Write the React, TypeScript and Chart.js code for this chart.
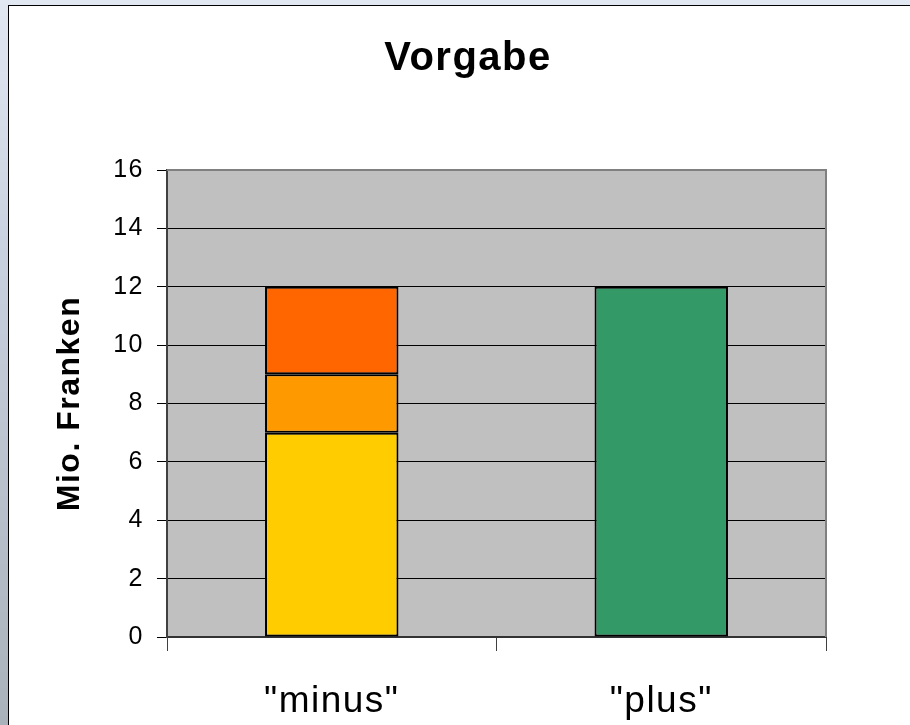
import React, { useEffect, useRef } from "react";
import { Chart, registerables } from "chart.js";

Chart.register(...registerables);

const chartTitle = "Vorgabe";
const categories = ['"minus"', '"plus"'];
const yAxisTitle = "Mio. Franken";
const yMin = 0;
const yMax = 16;
const yStep = 2;
const minusBase = [7, null];
const minusMiddle = [2, null];
const minusTop = [3, null];
const plusTotal = [null, 12];

const FONT = "'Liberation Sans', Arial, sans-serif";

export default function App() {
  const canvasRef = useRef<HTMLCanvasElement | null>(null);

  useEffect(() => {
    const canvas = canvasRef.current;
    if (!canvas) return;

    const framePlugin = {
      id: "frame",
      beforeDraw(chart: any) {
        const { ctx, chartArea } = chart;
        ctx.save();
        ctx.fillStyle = "#C0C0C0";
        ctx.fillRect(chartArea.left, chartArea.top, chartArea.right - chartArea.left, chartArea.bottom - chartArea.top);
        ctx.restore();
        ctx.letterSpacing = "1.5px";
      },
      beforeDatasetsDraw(chart: any) {
        const { ctx, chartArea } = chart;
        ctx.save();
        ctx.strokeStyle = "#808080";
        ctx.lineWidth = 2;
        ctx.beginPath();
        ctx.moveTo(chartArea.left, chartArea.top);
        ctx.lineTo(chartArea.right, chartArea.top);
        ctx.lineTo(chartArea.right, chartArea.bottom);
        ctx.stroke();
        ctx.restore();
      },
      afterDraw(chart: any) {
        const { ctx } = chart;
        ctx.save();
        ctx.letterSpacing = "1.5px";
        ctx.font = `bold 40px ${FONT}`;
        ctx.fillStyle = "#000";
        ctx.textAlign = "center";
        ctx.textBaseline = "alphabetic";
        ctx.fillText(chartTitle, 468, 70);
        ctx.restore();
        ctx.letterSpacing = "0px";
      },
    };

    const chart = new Chart(canvas, {
      type: "bar",
      data: {
        labels: categories,
        datasets: [
          { data: minusBase, backgroundColor: "#FFCC00", borderColor: "#000", borderWidth: 2, borderSkipped: false },
          { data: minusMiddle, backgroundColor: "#FF9900", borderColor: "#000", borderWidth: 2, borderSkipped: false },
          { data: minusTop, backgroundColor: "#FF6600", borderColor: "#000", borderWidth: 2, borderSkipped: false },
          { data: plusTotal, backgroundColor: "#339966", borderColor: "#000", borderWidth: 2, borderSkipped: false },
        ],
      },
      options: {
        responsive: false,
        animation: false,
        devicePixelRatio: 1,
        layout: { padding: { left: 0, right: 84, top: 170, bottom: 0 } },
        datasets: { bar: { categoryPercentage: 1, barPercentage: 0.405 } },
        plugins: {
          legend: { display: false },
          tooltip: { enabled: false },
          title: { display: false },
        },
        scales: {
          x: {
            stacked: true,
            afterFit(scale: any) {
              scale.height = 88;
            },
            grid: {
              offset: true,
              drawOnChartArea: false,
              drawTicks: true,
              tickLength: 14,
              color: "#404040",
              lineWidth: 1,
            },
            border: { color: "#333333", width: 2 },
            ticks: {
              color: "#000",
              font: { family: FONT, size: 37 },
              padding: 29,
            },
          },
          y: {
            stacked: true,
            min: yMin,
            max: yMax,
            afterFit(scale: any) {
              scale.width = 167;
            },
            ticks: {
              stepSize: yStep,
              color: "#000",
              font: { family: FONT, size: 25 },
              padding: 13,
            },
            grid: {
              color: (c: any) => (c.tick && c.tick.value === yMax ? "rgba(0,0,0,0)" : "#000"),
              lineWidth: 1,
              tickLength: 10,
              tickColor: "#000",
            },
            border: { color: "#404040", width: 2 },
            title: {
              display: true,
              text: yAxisTitle,
              color: "#000",
              font: { family: FONT, size: 32, weight: "bold" },
              padding: { top: 51, bottom: 0 },
            },
          },
        },
      },
      plugins: [framePlugin],
    } as any);

    return () => chart.destroy();
  }, []);

  return (
    <div
      style={{
        position: "fixed",
        left: 0,
        top: 0,
        width: 910,
        height: 725,
        overflow: "hidden",
        background: "linear-gradient(180deg, #e2e8f2 0%, #c8d1de 35%, #a9b1ba 100%)",
      }}
    >
      <div
        style={{
          position: "absolute",
          left: 8,
          top: 5,
          width: 940,
          height: 760,
          background: "#fff",
          border: "1px solid #000",
        }}
      />
      <canvas
        ref={canvasRef}
        width={910}
        height={725}
        style={{ position: "absolute", left: 0, top: 0, width: 910, height: 725 }}
      />
    </div>
  );
}
